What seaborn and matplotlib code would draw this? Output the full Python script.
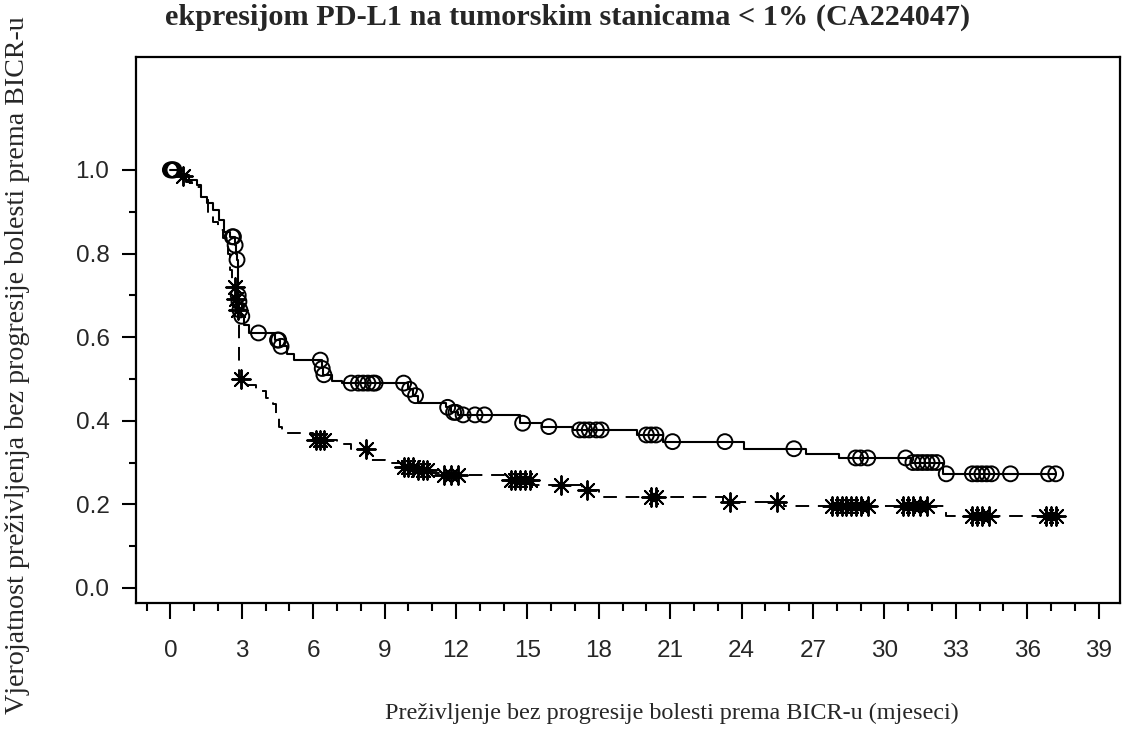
import numpy as np
import pandas as pd
import matplotlib
matplotlib.use("Agg")
import matplotlib.pyplot as plt
import seaborn as sns
from matplotlib.ticker import MultipleLocator, FormatStrFormatter

# KM curve with circle censor marks (upper, solid)
t_circ = [0, 0.45, 0.8, 1.1, 1.3, 1.55, 1.8, 2.05, 2.25, 2.5, 2.7, 2.75, 2.8, 2.83, 2.87,
          2.9, 2.95, 3.1, 3.3, 4.4, 4.6, 4.9, 5.2, 6.35, 6.42, 6.8, 7.2, 10.0, 10.2,
          10.4, 11.6, 11.8, 12.1, 14.7, 15.6, 16.9, 19.6, 20.7, 24.1, 26.7, 28.1, 31.1,
          32.45, 37.2]
s_circ = [1.0, 0.988, 0.976, 0.964, 0.935, 0.921, 0.904, 0.88, 0.852, 0.84, 0.82, 0.80,
          0.785, 0.70, 0.685, 0.665, 0.65, 0.63, 0.61, 0.593, 0.578, 0.56, 0.545, 0.525,
          0.51, 0.495, 0.49, 0.475, 0.46, 0.442, 0.432, 0.42, 0.414, 0.394, 0.386, 0.378,
          0.366, 0.35, 0.333, 0.32, 0.311, 0.30, 0.273, 0.273]
cens_circ = [0.0, 0.05, 0.1, 0.15, 2.6, 2.65, 2.72, 2.8, 2.85, 2.88, 2.92, 3.0, 3.7, 4.5,
             4.55, 4.65, 6.3, 6.38, 6.45, 7.6, 7.9, 8.1, 8.3, 8.5, 8.6, 9.8, 10.05, 10.3,
             11.65, 11.9, 12.0, 12.3, 12.8, 13.2, 14.8, 15.9, 17.2, 17.4, 17.6, 17.9,
             18.1, 20.0, 20.2, 20.4, 21.1, 23.3, 26.2, 28.8, 29.0, 29.3, 30.9, 31.2,
             31.4, 31.6, 31.8, 32.0, 32.2, 32.6, 33.7, 33.9, 34.1, 34.3, 34.5, 35.3,
             36.9, 37.2]

# KM curve with star censor marks (lower, dashed)
t_star = [0, 0.5, 0.65, 0.9, 1.3, 1.6, 1.8, 2.0, 2.2, 2.4, 2.5, 2.6, 2.75, 2.8, 2.85,
          2.9, 3.2, 3.6, 4.0, 4.3, 4.45, 4.55, 4.7, 6.0, 7.0, 7.6, 8.3, 9.0, 9.8, 10.4,
          11.0, 11.4, 14.0, 15.2, 17.3, 18.0, 23.2, 25.8, 32.6, 37.2]
s_star = [1.0, 0.985, 0.972, 0.96, 0.933, 0.897, 0.876, 0.856, 0.837, 0.80, 0.76, 0.72,
          0.69, 0.665, 0.648, 0.50, 0.486, 0.47, 0.455, 0.44, 0.41, 0.385, 0.37, 0.355,
          0.345, 0.333, 0.305, 0.298, 0.29, 0.282, 0.275, 0.27, 0.258, 0.246, 0.234,
          0.218, 0.206, 0.195, 0.171, 0.171]
cens_star = [0.55, 2.7, 2.77, 2.82, 2.95, 6.1, 6.3, 6.45, 8.2, 9.8, 10.0, 10.2, 10.4,
             10.6, 10.8, 11.5, 11.8, 12.1, 14.3, 14.5, 14.7, 14.9, 15.1, 16.4, 17.5,
             20.2, 20.4, 23.5, 25.5, 27.8, 28.0, 28.2, 28.4, 28.6, 28.8, 29.0, 29.3,
             30.8, 31.0, 31.2, 31.5, 31.8, 33.7, 33.9, 34.1, 34.4, 36.8, 37.0, 37.2]

x_ticks = list(range(0, 40, 3))
y_ticks = [0.0, 0.2, 0.4, 0.6, 0.8, 1.0]


def censor_y(t, s, c):
    t = np.asarray(t)
    idx = np.searchsorted(t, c, side="right") - 1
    return np.asarray(s)[idx]


df_circ = pd.DataFrame({"t": t_circ, "s": s_circ})
df_star = pd.DataFrame({"t": t_star, "s": s_star})

sns.set_style("ticks")
plt.rcParams["font.family"] = ["Liberation Sans", "DejaVu Sans"]
serif = ["Liberation Serif", "DejaVu Serif"]

fig = plt.figure(figsize=(11.23, 7.35), dpi=100)
ax = fig.add_axes([0.121, 0.1796, 0.8763, 0.7428])

sns.lineplot(data=df_circ, x="t", y="s", estimator=None, sort=False,
             drawstyle="steps-post", color="black", lw=1.5, ax=ax)
sns.lineplot(data=df_star, x="t", y="s", estimator=None, sort=False,
             drawstyle="steps-post", color="black", lw=1.4,
             linestyle=(0, (7, 4.5)), ax=ax)

sns.scatterplot(x=cens_circ, y=censor_y(t_circ, s_circ, cens_circ), marker="o",
                s=115, facecolor="none", edgecolor="black", linewidth=1.4,
                ax=ax, zorder=3)
sns.scatterplot(x=cens_star, y=censor_y(t_star, s_star, cens_star), marker=(8, 2, 0),
                s=180, color="black", edgecolor="black", linewidth=1.4,
                ax=ax, zorder=3)

ax.set_xlim(-1.45, 39.9)
ax.set_ylim(-0.036, 1.27)
ax.set_xticks(x_ticks)
ax.xaxis.set_minor_locator(MultipleLocator(1))
ax.set_yticks(y_ticks)
ax.set_yticks(np.arange(0, 1.01, 0.1), minor=True)
ax.yaxis.set_major_formatter(FormatStrFormatter("%.1f"))
ax.set_xlabel("")
ax.set_ylabel("")

ax.tick_params(axis="x", which="major", direction="out", length=11.5, width=1.5,
               pad=15, labelsize=17.5, color="black")
ax.tick_params(axis="x", which="minor", direction="out", length=6, width=1.5,
               color="black")
ax.tick_params(axis="y", which="major", direction="out", length=10, width=1.5,
               pad=9, labelsize=17.5, color="black")
ax.tick_params(axis="y", which="minor", direction="out", length=5, width=1.5,
               color="black")
for sp in ax.spines.values():
    sp.set_visible(True)
    sp.set_linewidth(1.6)
    sp.set_color("black")

fig.text(0.505, 1 - 25 / 735, "ekpresijom PD-L1 na tumorskim stanicama < 1% (CA224047)",
         ha="center", va="baseline", fontsize=21.8, fontweight="bold", family=serif)
fig.text(0.016, 0.503, "Vjerojatnost preživljenja bez progresije bolesti prema BICR-u",
         rotation=90, ha="center", va="center", fontsize=20.2, family=serif)
fig.text(0.598, 0.030, "Preživljenje bez progresije bolesti prema BICR-u (mjeseci)",
         ha="center", va="center", fontsize=17.4, family=serif)

fig.savefig("out.png", dpi=100)
